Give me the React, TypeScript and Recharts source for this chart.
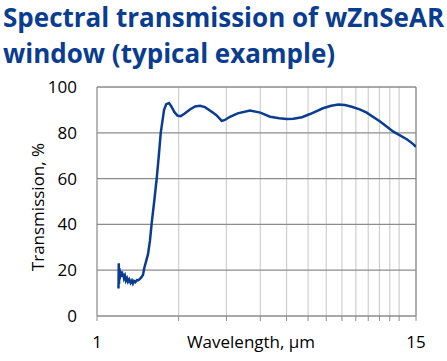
import React from "react";
import {
	LineChart,
	Line,
	XAxis,
	YAxis,
	CartesianGrid,
	ReferenceLine,
	Label,
} from "recharts";

// wavelength, µm
const wavelength = [
	1.2, 1.203, 1.206, 1.209, 1.212, 1.216, 1.22, 1.225, 1.23, 1.236, 1.242,
	1.25, 1.258, 1.268, 1.278, 1.29, 1.301, 1.315, 1.33, 1.345, 1.357, 1.37,
	1.385, 1.404, 1.42, 1.44, 1.46, 1.478, 1.494, 1.51, 1.542, 1.568, 1.591,
	1.625, 1.66, 1.69, 1.718, 1.767, 1.8, 1.843, 1.88, 1.93, 1.98, 2.035, 2.1,
	2.2, 2.3, 2.398, 2.5, 2.648, 2.75, 2.883, 2.95, 3.093, 3.3, 3.666, 4.0,
	4.346, 4.7, 5.007, 5.295, 5.7, 6.1, 6.81, 7.3, 7.76, 8.2, 8.69, 9.3, 9.87,
	11.06, 12.38, 13.87, 14.5, 15,
];

// transmission, %
const transmission = [
	12, 23, 14, 21, 16, 20, 17, 19, 17.5, 19.5, 17, 18.5, 16.5, 17.5, 15.5,
	16.5, 15, 16, 14.5, 15.5, 14.2, 15.3, 14.8, 15.7, 15.6, 16.2, 17, 18, 21,
	23, 27, 33, 40.6, 50, 60, 70, 80, 90, 92.5, 93, 91.5, 89, 87.5, 87.3, 88.3,
	90.2, 91.5, 91.8, 91.2, 89.2, 87.8, 85.2, 85.5, 87, 88.5, 89.7, 88.8, 87,
	86.4, 86, 86.1, 86.8, 88.2, 90.7, 91.8, 92.4, 92.1, 91.4, 90.2, 88.8, 84.9,
	80.5, 77.2, 75.5, 73.9,
];

const xTicks = [1, 2, 3, 4, 5, 6, 7, 8, 9, 10, 11, 12, 13, 14, 15];
const yTicks = [0, 20, 40, 60, 80, 100];
const xLabeled = [1, 15];

const data = wavelength.map((w, i) => ({ w, t: transmission[i] }));

const font = "'Open Sans', sans-serif";
const blue = "#0a3d8f";

export default function App() {
	return (
		<div
			style={{
				position: "absolute",
				left: 0,
				top: 0,
				width: 447,
				height: 361,
				overflow: "hidden",
				background: "#fff",
				fontFamily: font,
			}}
		>
			<div
				style={{
					position: "absolute",
					left: 3,
					top: -1,
					color: blue,
					fontWeight: 700,
					fontSize: 26,
					lineHeight: "36px",
					whiteSpace: "nowrap",
				}}
			>
				Spectral transmission of wZnSeAR
				<br />
				window (typical example)
			</div>
			<div style={{ position: "absolute", left: 0, top: 0 }}>
				<LineChart
					width={447}
					height={361}
					data={data}
					margin={{ top: 87, right: 31, left: 0, bottom: 0 }}
				>
					<CartesianGrid
						horizontal={false}
						stroke="#cfcfcf"
						strokeWidth={1.2}
					/>
					<CartesianGrid
						vertical={false}
						stroke="#8c8c8c"
						strokeWidth={1.2}
					/>
					<ReferenceLine y={100} stroke="#8c8c8c" strokeWidth={1.2} />
					<ReferenceLine x={15} stroke="#8c8c8c" strokeWidth={1.2} />
					<XAxis
						dataKey="w"
						type="number"
						scale="log"
						domain={[1, 15]}
						ticks={xTicks}
						allowDataOverflow
						height={45}
						stroke="#8c8c8c"
						tickSize={5}
						tickMargin={15}
						tick={{ fill: "#000", fontSize: 17, fontFamily: font }}
						tickFormatter={(v: number) =>
							xLabeled.includes(v) ? String(v) : ""
						}
					>
						<Label
							content={() => (
								<text
									x={251}
									y={348}
									textAnchor="middle"
									fill="#000"
									fontSize={17}
									fontFamily={font}
								>
									Wavelength, µm
								</text>
							)}
						/>
					</XAxis>
					<YAxis
						type="number"
						domain={[0, 100]}
						ticks={yTicks}
						width={97}
						stroke="#8c8c8c"
						tickLine={false}
						tickSize={0}
						tickMargin={20}
						tick={{ fill: "#000", fontSize: 17, fontFamily: font }}
					>
						<Label
							content={() => (
								<text
									x={44}
									y={207}
									textAnchor="middle"
									fill="#000"
									fontSize={17}
									fontFamily={font}
									transform="rotate(-90 44 207)"
								>
									Transmission, %
								</text>
							)}
						/>
					</YAxis>
					<Line
						type="linear"
						dataKey="t"
						stroke={blue}
						strokeWidth={2.5}
						dot={false}
						isAnimationActive={false}
					/>
				</LineChart>
			</div>
		</div>
	);
}
